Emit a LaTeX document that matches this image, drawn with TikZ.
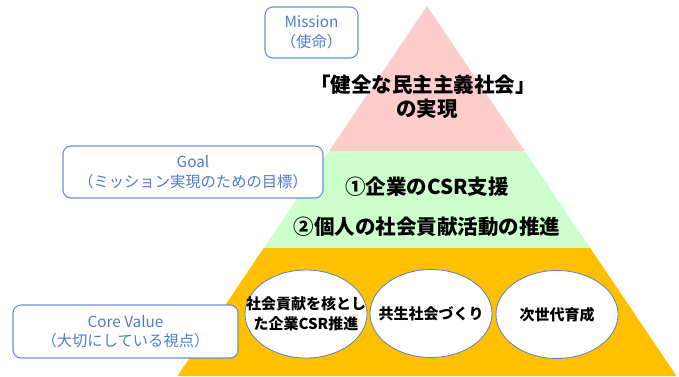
\documentclass[tikz,border=0pt]{standalone}
\usepackage{fontspec}
\usetikzlibrary{shapes.geometric}
\setmainfont{Noto Sans CJK JP}
\definecolor{pinkL}{HTML}{FFCCCC}
\definecolor{greenL}{HTML}{CCFFCC}
\definecolor{goldL}{HTML}{FFC000}
\definecolor{boxline}{HTML}{6A8ED8}
\definecolor{boxtext}{HTML}{4F7CCB}
\definecolor{ellline}{HTML}{5B7FC0}
\begin{document}
\begin{tikzpicture}[x=1pt,y=-1pt,
  labelbox/.style={draw=boxline,line width=1.1pt,rounded corners=8pt,fill=white,text=boxtext,align=center,
     font=\fontsize{15.3}{19.5}\selectfont,inner sep=0pt},
  maintext/.style={align=center,font=\bfseries\fontsize{20.5}{25}\selectfont,inner sep=0pt},
  valell/.style={draw=ellline,line width=0.8pt,fill=white,ellipse,minimum width=122pt,minimum height=88pt,inner sep=0pt},
  valtext/.style={align=center,font=\bfseries\fontsize{15}{20}\selectfont,inner sep=0pt}]
\useasboundingbox (0,0) rectangle (679,376);
% pyramid layers
\fill[pinkL] (427,6) -- (524.8,151) -- (329.2,151) -- cycle;
\fill[greenL] (329.2,151) -- (524.8,151) -- (590.2,248) -- (263.8,248) -- cycle;
\fill[goldL] (263.8,248) -- (590.2,248) -- (676.5,376) -- (177.5,376) -- cycle;
% left label boxes
\node[labelbox,minimum width=93pt,minimum height=51pt] (mission) at (311.5,32.5) {Mission\\（使命）};
\node[labelbox,minimum width=260pt,minimum height=52pt] (goal) at (193,172) {Goal\\（ミッション実現のための目標）};
\node[labelbox,minimum width=225pt,minimum height=53pt] (core) at (125.5,331.5) {Core Value\\（大切にしている視点）};
% main texts
\node[maintext] (m1) at (423,85) {「健全な民主主義社会」};
\node[maintext] (m2) at (427,109) {の実現};
\node[maintext] (g1) at (427,187) {①企業のCSR支援};
\node[maintext] (g2) at (427,227) {②個人の社会貢献活動の推進};
% ellipses
\node[valell] (e1) at (306,314) {};
\node[valell] (e2) at (431,313.5) {};
\node[valell] (e3) at (557,314.5) {};
\node[valtext] (v1) at (e1.center) {社会貢献を核とし\\た企業CSR推進};
\node[valtext] (v2) at (e2.center) {共生社会づくり};
\node[valtext] (v3) at (e3.center) {次世代育成};
\end{tikzpicture}
\end{document}
